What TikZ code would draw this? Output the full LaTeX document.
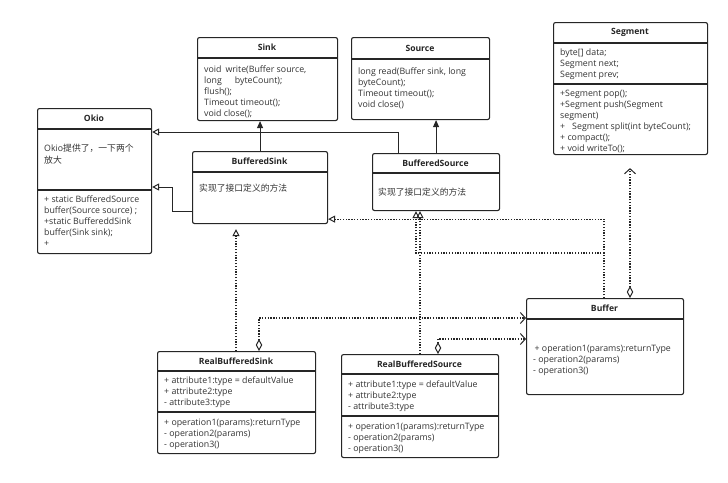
\documentclass[tikz,border=0pt]{standalone}
\usepackage{fontspec}
\setmainfont{Open Sans}
\newfontfamily\cjk{Noto Sans CJK SC}
\usetikzlibrary{arrows.meta}
\newcommand{\myst}{\rule{0pt}{8pt}}
\begin{document}
\begin{tikzpicture}[x=1pt,y=1pt,
  cls/.style={draw, line width=1.1pt, rounded corners=2pt, fill=white, inner sep=0pt, anchor=north west, draw=black!85},
  sep/.style={line width=1.1pt, draw=black!85},
  ttl/.style={font=\fontsize{8.6}{11}\selectfont\bfseries, inner sep=0pt, text=black!85},
  txt/.style={font=\fontsize{8.8}{11}\selectfont, align=left, anchor=north west, inner sep=0pt, text=black!80},
  realz/.style={line width=1pt, draw=black!85, -{Triangle[open,length=7pt,width=7pt]}},
  assoc/.style={line width=1pt, draw=black!85, -{Triangle[length=7pt,width=6pt]}},
  impl/.style={line width=1.1pt, draw=black!85, dash pattern=on 1.3pt off 1.5pt, -{Triangle[open,length=7pt,width=7pt,line width=1pt]}},
  agg/.style={line width=1.1pt, draw=black!85, dash pattern=on 1.3pt off 1.5pt, {Diamond[open,length=12pt,width=6.5pt,line width=1pt]}-{Straight Barb[length=5pt,width=11pt,line width=1pt]}}
]
\useasboundingbox (0,0) rectangle (728,-482);

% ---------- Okio
\node[cls, minimum width=114pt, minimum height=145pt] (okio) at (37,-108) {};
\draw[sep] (37,-129) -- (151,-129);
\draw[sep] (37,-190) -- (151,-190);
\node[ttl] (okiot) at (94,-118.5) {Okio};
\node[txt, font=\fontsize{8.8}{12}\selectfont] (okiob) at (44,-143.5) {\myst Okio{\cjk 提供了，一下两个}\\{\cjk 放大}};
\node[txt] (okiom) at (44,-194.5) {\myst+ static BufferedSource\\buffer(Source source) ;\\+static BuffereddSink\\buffer(Sink sink);\\+};

% ---------- Sink
\node[cls, minimum width=140pt, minimum height=83pt] (sink) at (197,-37) {};
\draw[sep] (197,-58) -- (337,-58);
\node[ttl] (sinkt) at (267,-47.5) {Sink};
\node[txt] (sinkb) at (204,-64.5) {\myst void\hspace{4pt}write(Buffer source,\\long\hspace{13pt}byteCount);\\flush();\\Timeout timeout();\\void close();};

% ---------- Source
\node[cls, minimum width=138pt, minimum height=82pt] (source) at (351,-37) {};
\draw[sep] (351,-59) -- (489,-59);
\node[ttl] (sourcet) at (420,-48) {Source};
\node[txt] (sourceb) at (358,-66.5) {\myst long read(Buffer sink, long\\byteCount);\\Timeout timeout();\\void close()};

% ---------- BufferedSink
\node[cls, minimum width=135pt, minimum height=72pt] (bsink) at (192,-151) {};
\draw[sep] (192,-172) -- (327,-172);
\node[ttl] (bsinkt) at (259.5,-161.5) {BufferedSink};
\node[txt] (bsinkb) at (199,-183.5) {\myst{\cjk 实现了接口定义的方法}};

% ---------- BufferedSource
\node[cls, minimum width=127pt, minimum height=57pt] (bsource) at (372,-153) {};
\draw[sep] (372,-173) -- (499,-173);
\node[ttl] (bsourcet) at (435.5,-163) {BufferedSource};
\node[txt] (bsourceb) at (378,-187.5) {\myst{\cjk 实现了接口定义的方法}};

% ---------- Segment
\node[cls, minimum width=154pt, minimum height=132pt] (segment) at (553,-22) {};
\draw[sep] (553,-43) -- (707,-43);
\draw[sep] (553,-84) -- (707,-84);
\node[ttl] (segmentt) at (630,-32.5) {Segment};
\node[txt] (segmenta) at (560,-47.5) {\myst byte[] data;\\Segment next;\\Segment prev;};
\node[txt] (segmentm) at (560,-88.5) {\myst+Segment pop();\\+Segment push(Segment\\segment)\\+\hspace{7pt}Segment split(int byteCount);\\+ compact();\\+ void writeTo();};

% ---------- Buffer
\node[cls, minimum width=157pt, minimum height=96pt] (buffer) at (526,-298) {};
\draw[sep] (526,-319) -- (683,-319);
\node[ttl] (buffert) at (604.5,-308.5) {Buffer};
\node[txt] (bufferm) at (533,-343.5) {\myst\,+ operation1(params):returnType\\- operation2(params)\\- operation3()};

% ---------- RealBufferedSink
\node[cls, minimum width=158pt, minimum height=102pt] (rbsink) at (157,-351) {};
\draw[sep] (157,-371) -- (315,-371);
\draw[sep] (157,-412) -- (315,-412);
\node[ttl] (rbsinkt) at (236,-361) {RealBufferedSink};
\node[txt] (rbsinka) at (164,-375.5) {\myst+ attribute1:type = defaultValue\\+ attribute2:type\\- attribute3:type};
\node[txt] (rbsinkm) at (164,-417.5) {\myst+ operation1(params):returnType\\- operation2(params)\\- operation3()};

% ---------- RealBufferedSource
\node[cls, minimum width=157pt, minimum height=103pt] (rbsource) at (341,-354) {};
\draw[sep] (341,-374) -- (498,-374);
\draw[sep] (341,-416) -- (498,-416);
\node[ttl] (rbsourcet) at (419.5,-364) {RealBufferedSource};
\node[txt] (rbsourcea) at (348,-379.5) {\myst+ attribute1:type = defaultValue\\+ attribute2:type\\- attribute3:type};
\node[txt] (rbsourcem) at (348,-421.5) {\myst+ operation1(params):returnType\\- operation2(params)\\- operation3()};

% ---------- connectors
\draw[assoc] (bsink.north) -- (bsink.north |- sink.south);
\draw[assoc] (bsource.north) -- (bsource.north |- source.south);
\draw[realz] ([xshift=26pt]bsource.north west) |- ([yshift=-24pt]okio.north east);
\draw[realz] ([yshift=13pt]bsink.south west) -- ++(-20,0) |- ([yshift=-79pt]okio.north east);

\coordinate (j1) at (416,-253);
\draw[impl, shorten >=5pt] ([xshift=79pt]rbsink.north west) -- ([xshift=79pt]rbsink.north west |- bsink.south);
\draw[impl] ([xshift=78pt]buffer.north west) |- ([yshift=5pt]bsink.south east);
\draw[impl] ([xshift=78pt]buffer.north west) |- (j1) -- (j1 |- bsource.south);
\draw[impl] ([xshift=79pt]rbsource.north west) -- ([xshift=79pt]rbsource.north west |- bsource.south);

\draw[agg, shorten >=13pt] ([xshift=104pt]buffer.north west) -- ([xshift=104pt]buffer.north west |- segment.south);
\draw[agg] ([xshift=102pt]rbsink.north west) |- ([yshift=-20pt]buffer.north west);
\draw[agg] ([xshift=97pt]rbsource.north west) |- ([yshift=-41pt]buffer.north west);
\end{tikzpicture}
\end{document}
